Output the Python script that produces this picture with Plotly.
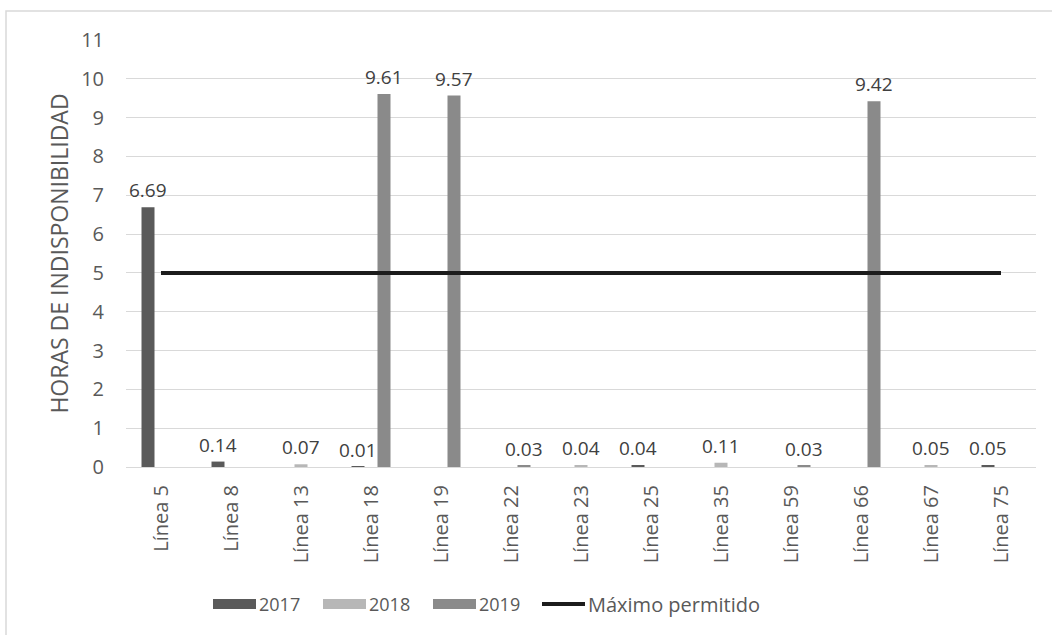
import plotly.graph_objects as go

# Categories and yearly unavailability hours
lineas = ["Línea 5", "Línea 8", "Línea 13", "Línea 18", "Línea 19", "Línea 22",
          "Línea 23", "Línea 25", "Línea 35", "Línea 59", "Línea 66", "Línea 67", "Línea 75"]
h2017 = [6.69, 0.14, None, 0.01, None, None, None, 0.04, None, None, None, None, 0.05]
h2018 = [None, None, 0.07, None, None, None, 0.04, None, 0.11, None, None, 0.05, None]
h2019 = [None, None, None, 9.61, 9.57, 0.03, None, None, None, 0.03, 9.42, None, None]
maximo = [5] * len(lineas)
y_ticks = list(range(0, 12))

W, H = 1052, 635
L, R, T, B = 126, 16, 40, 168
PW, PH = W - L - R, H - T - B
FONT = "Open Sans"
TXT = "#595959"

series = [("2017", h2017, "#5a5a5a"), ("2018", h2018, "#b7b7b7"), ("2019", h2019, "#8a8a8a")]

fig = go.Figure()
for name, vals, col in series:
    fig.add_trace(go.Bar(x=lineas, y=vals, name=name, marker=dict(color=col, line=dict(width=0)),
                         showlegend=False))

fig.add_trace(go.Scatter(x=lineas, y=maximo, mode="lines", name="Máximo permitido",
                         line=dict(color="#1c1c1c", width=4), showlegend=False))

# Value labels above each bar
offsets = {"2017": -13, "2018": 0, "2019": 13}
annotations = []
for name, vals, col in series:
    for cat, v in zip(lineas, vals):
        if v is None:
            continue
        annotations.append(dict(x=cat, y=v, xref="x", yref="y", text=f"{v:.2f}",
                                showarrow=False, yanchor="bottom", xanchor="center",
                                xshift=offsets[name], yshift=2,
                                font=dict(family=FONT, size=19, color="#404040")))


# Pixel position -> paper coordinates (paper spans the plot area)
def px_x(p):
    return (p - L) / PW


def px_y(p):
    return (H - B - p) / PH


shapes = []
leg_y = 604
legend_items = [("2017", "#5a5a5a", 213), ("2018", "#b7b7b7", 323), ("2019", "#8a8a8a", 433)]
for name, col, x0 in legend_items:
    shapes.append(dict(type="rect", xref="paper", yref="paper",
                       x0=px_x(x0), x1=px_x(x0 + 43), y0=px_y(leg_y + 5), y1=px_y(leg_y - 5),
                       fillcolor=col, line=dict(width=0)))
    annotations.append(dict(x=px_x(x0 + 44), y=px_y(leg_y), xref="paper", yref="paper",
                            text=name, showarrow=False, xanchor="left", yanchor="middle",
                            font=dict(family=FONT, size=18, color=TXT)))
shapes.append(dict(type="line", xref="paper", yref="paper",
                   x0=px_x(542), x1=px_x(585), y0=px_y(leg_y), y1=px_y(leg_y),
                   line=dict(color="#1c1c1c", width=4)))
annotations.append(dict(x=px_x(586), y=px_y(leg_y), xref="paper", yref="paper",
                        text="Máximo permitido", showarrow=False, xanchor="left", yanchor="middle",
                        font=dict(family=FONT, size=20, color=TXT)))

# Chart frame
shapes.append(dict(type="rect", xref="paper", yref="paper",
                   x0=px_x(6), x1=px_x(W + 10), y0=px_y(H + 10), y1=px_y(11),
                   line=dict(color="#d9d9d9", width=1.5), fillcolor="rgba(0,0,0,0)", layer="below"))

fig.update_layout(
    width=W, height=H,
    margin=dict(l=L, r=R, t=T, b=B),
    paper_bgcolor="white", plot_bgcolor="white",
    barmode="group", bargap=0.443, bargroupgap=0,
    font=dict(family=FONT, size=19, color=TXT),
    annotations=annotations, shapes=shapes,
    showlegend=False,
)
fig.update_xaxes(type="category", tickangle=-90, showgrid=False, showline=True,
                 linecolor="#d9d9d9", linewidth=1, ticks="", ticklabelstandoff=9,
                 tickfont=dict(family=FONT, size=20, color=TXT))
fig.update_yaxes(range=[0, 11], tickvals=y_ticks, showgrid=True, gridcolor="#d9d9d9",
                 gridwidth=1, zeroline=False, showline=False, ticks="", ticklabelstandoff=21,
                 tickfont=dict(family=FONT, size=20, color=TXT),
                 title=dict(text="HORAS DE INDISPONIBILIDAD", standoff=6,
                            font=dict(family=FONT, size=23, color=TXT)))

fig.write_html("out.html")
